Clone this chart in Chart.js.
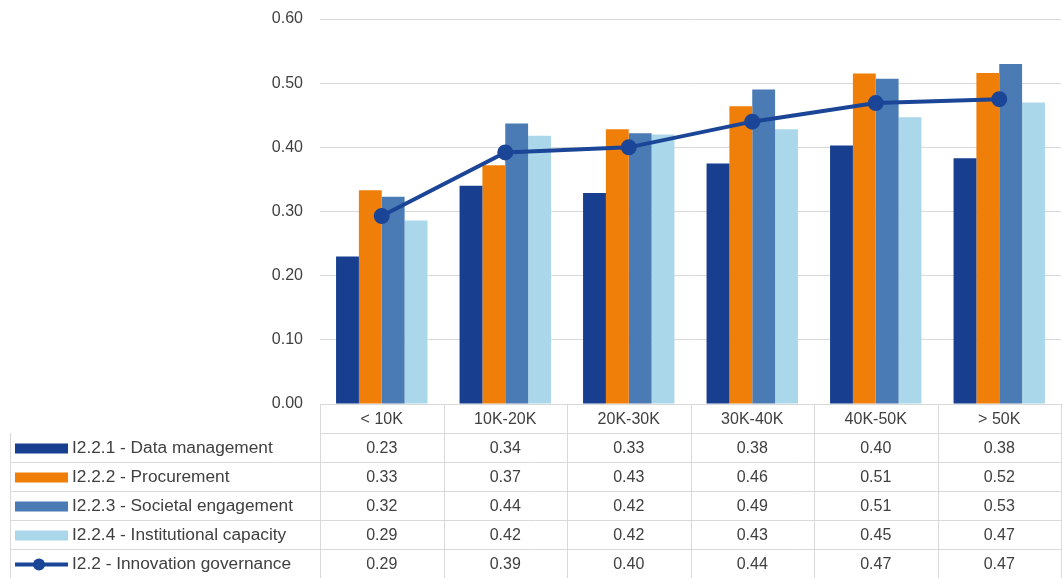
<!DOCTYPE html>
<html><head><meta charset="utf-8">
<script src="https://cdn.jsdelivr.net/npm/chart.js@4"></script>
<style>body{margin:0;background:#fff}#wrap{width:1062px;height:578px}</style>
</head><body><div id="wrap"><canvas id="c"></canvas></div>
<script>
const categories = ['< 10K', '10K-20K', '20K-30K', '30K-40K', '40K-50K', '> 50K'];
const dataMgmt = [0.230, 0.340, 0.329, 0.375, 0.403, 0.383];
const procurement = [0.333, 0.372, 0.428, 0.464, 0.515, 0.516];
const societal = [0.323, 0.437, 0.422, 0.490, 0.507, 0.530];
const institutional = [0.286, 0.418, 0.420, 0.428, 0.447, 0.470];
const governance = [0.293, 0.392, 0.400, 0.440, 0.469, 0.475];
const tableRows = [
  ['0.23', '0.34', '0.33', '0.38', '0.40', '0.38'],
  ['0.33', '0.37', '0.43', '0.46', '0.51', '0.52'],
  ['0.32', '0.44', '0.42', '0.49', '0.51', '0.53'],
  ['0.29', '0.42', '0.42', '0.43', '0.45', '0.47'],
  ['0.29', '0.39', '0.40', '0.44', '0.47', '0.47']
];

const FONT = '16px "Liberation Sans", Arial, sans-serif';
const LABEL_FONT = '17.3px "Liberation Sans", Arial, sans-serif';
const TEXT = '#404040';
const GRID = '#d9d9d9';

const tablePlugin = {
  id: 'dataTable',
  afterDraw(chart) {
    const ctx = chart.ctx, x = chart.scales.x, area = chart.chartArea;
    const top = area.bottom, rowH = 29, left = 10, right = 1061;
    ctx.save();
    ctx.strokeStyle = GRID; ctx.lineWidth = 1;
    ctx.font = FONT; ctx.fillStyle = TEXT; ctx.textBaseline = 'middle';
    const n = categories.length;
    const step = (right - area.left) / n;
    for (let r = 0; r <= 6; r++) {
      const y = Math.round(top + r * rowH) + 0.5;
      ctx.beginPath();
      ctx.moveTo(r <= 1 ? area.left : left, y); ctx.lineTo(right, y); ctx.stroke();
    }
    for (let i = 0; i <= n; i++) {
      const xx = Math.round(area.left + i * step) + 0.5;
      ctx.beginPath(); ctx.moveTo(xx, top); ctx.lineTo(xx, top + 6 * rowH); ctx.stroke();
    }
    ctx.beginPath(); ctx.moveTo(left + 0.5, top + rowH); ctx.lineTo(left + 0.5, top + 6 * rowH); ctx.stroke();
    ctx.textAlign = 'center';
    categories.forEach((c, i) => ctx.fillText(c, x.getPixelForValue(i), top + rowH / 2 + 1));
    chart.data.datasets.forEach((ds, r) => {
      const cy = top + (r + 1.5) * rowH + 1;
      if (ds.type === 'line') {
        ctx.strokeStyle = ds.borderColor; ctx.lineWidth = 4;
        ctx.beginPath(); ctx.moveTo(15, cy); ctx.lineTo(68, cy); ctx.stroke();
        ctx.fillStyle = ds.borderColor;
        ctx.beginPath(); ctx.arc(39, cy, 6, 0, Math.PI * 2); ctx.fill();
      } else {
        ctx.fillStyle = ds.backgroundColor;
        ctx.fillRect(15, cy - 5, 53, 10);
      }
      ctx.fillStyle = TEXT; ctx.textAlign = 'left';
      ctx.font = LABEL_FONT;
      ctx.fillText(ds.label, 72, cy);
      ctx.font = FONT;
      ctx.textAlign = 'center';
      tableRows[r].forEach((v, i) => ctx.fillText(v, x.getPixelForValue(i), cy));
    });
    ctx.restore();
  }
};

const barOpts = { categoryPercentage: 0.74, barPercentage: 1, order: 2 };
new Chart(document.getElementById('c'), {
  data: {
    labels: categories,
    datasets: [
      { type: 'bar', label: 'I2.2.1 - Data management', data: dataMgmt, backgroundColor: '#173e8f', ...barOpts },
      { type: 'bar', label: 'I2.2.2 - Procurement', data: procurement, backgroundColor: '#f07f09', ...barOpts },
      { type: 'bar', label: 'I2.2.3 - Societal engagement', data: societal, backgroundColor: '#4a7bb5', ...barOpts },
      { type: 'bar', label: 'I2.2.4 - Institutional capacity', data: institutional, backgroundColor: '#abd7ea', ...barOpts },
      { type: 'line', label: 'I2.2 - Innovation governance', data: governance, borderColor: '#1b4596', backgroundColor: '#1b4596',
        borderWidth: 4, pointRadius: 6, pointBackgroundColor: '#1b4596', order: 1 }
    ]
  },
  options: {
    responsive: true, maintainAspectRatio: false, animation: false,
    layout: { autoPadding: false, padding: { top: 19, bottom: 174, right: 1, left: 0 } },
    plugins: { legend: { display: false }, tooltip: { enabled: false } },
    scales: {
      x: { display: false },
      y: {
        min: 0, max: 0.6,
        afterFit: s => { s.width = 320; s.paddingTop = 0; s.paddingBottom = 0; },
        border: { display: false },
        grid: { color: GRID, drawTicks: false },
        ticks: { stepSize: 0.1, padding: 17, color: TEXT, font: { size: 16, family: '"Liberation Sans", Arial' },
          callback: v => v.toFixed(2) }
      }
    }
  },
  plugins: [tablePlugin]
});
</script></body></html>
